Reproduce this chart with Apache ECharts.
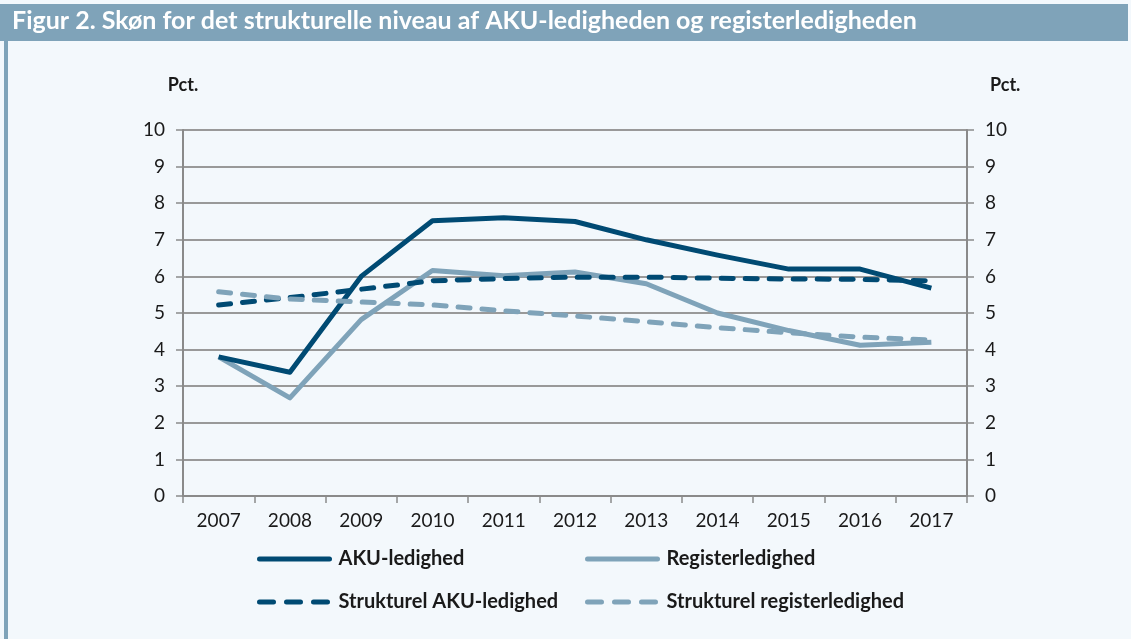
<!DOCTYPE html>
<html>
<head>
<meta charset="utf-8">
<script src="https://cdn.jsdelivr.net/npm/echarts@6/dist/echarts.min.js"></script>
<style>
html,body{margin:0;padding:0;background:#f3f8fc;}
#c{width:1131px;height:639px;}
</style>
</head>
<body>
<div id="c"></div>
<script>
const titleText = 'Figur 2. Skøn for det strukturelle niveau af AKU-ledigheden og registerledigheden';
const unitLabel = 'Pct.';
const years = ['2007','2008','2009','2010','2011','2012','2013','2014','2015','2016','2017'];
const akuLedighed = [3.8, 3.38, 6.0, 7.52, 7.6, 7.5, 7.0, 6.58, 6.2, 6.2, 5.68];
const registerLedighed = [3.8, 2.68, 4.82, 6.16, 6.02, 6.12, 5.8, 5.0, 4.52, 4.12, 4.2];
const strukturelAku = [5.22, 5.42, 5.65, 5.88, 5.94, 5.98, 5.98, 5.95, 5.93, 5.92, 5.88];
const strukturelRegister = [5.58, 5.38, 5.3, 5.22, 5.06, 4.92, 4.76, 4.6, 4.46, 4.34, 4.26];
const seriesNames = ['AKU-ledighed', 'Registerledighed', 'Strukturel AKU-ledighed', 'Strukturel registerledighed'];

const dark = '#004a73';
const light = '#7fa3b9';
const font = 'Lato, "Open Sans", sans-serif';
const dash = [12, 12];

const chart = echarts.init(document.getElementById('c'), null, {renderer:'canvas'});

function mkSeries(name, data, color, dashed) {
  return {
    name, type:'line', data, yAxisIndex:0,
    symbol:'none', smooth:false, z: dashed ? 3 : 2,
    lineStyle:{color, width:5, type: dashed ? dash : 'solid', cap: dashed ? 'round' : 'butt', join:'round'},
    itemStyle:{color}
  };
}
function mkLegend(name, left, top, color, dashed) {
  return {
    data:[name], left, top, itemWidth:70, itemHeight:14, itemGap:0,
    itemStyle:{opacity:0},
    lineStyle:{width:5, color, type: dashed ? [14, 13] : 'solid', cap:'round'},
    textStyle:{fontFamily:font, fontWeight:'bold', fontSize:20, color:'#1a1a1a', padding:[0,0,0,4]},
    selectedMode:false
  };
}

const yAxisCommon = {
  type:'value', min:0, max:10, interval:1,
  axisLine:{show:true, lineStyle:{color:'#8a8a8a', width:2}},
  axisTick:{show:true, length:7, lineStyle:{color:'#8a8a8a', width:1.5}},
  axisLabel:{fontFamily:font, fontSize:19, color:'#1a1a1a', margin:18},
  name: unitLabel, nameGap: 36
};
const nameStyle = {fontFamily:font, fontSize:18, fontWeight:'bold', color:'#1a1a1a'};

chart.setOption({
  backgroundColor:'#f3f8fc',
  animation:false,
  graphic:[
    {type:'rect', shape:{x:0, y:4, width:1128, height:37}, style:{fill:'#7fa3b9'}, silent:true},
    {type:'rect', shape:{x:4, y:41, width:4, height:598}, style:{fill:'#7fa3b9'}, silent:true},
    {type:'text', left:12, top:8, style:{text:titleText, fill:'#ffffff', font:'bold 25px ' + font}, silent:true}
  ],
  grid:{left:183, right:164, top:130, bottom:143, containLabel:false},
  xAxis:{
    type:'category', data:years, boundaryGap:true,
    axisLine:{show:true, lineStyle:{color:'#8a8a8a', width:2}},
    axisTick:{show:true, length:7, interval:0, lineStyle:{color:'#8a8a8a', width:1.5}},
    axisLabel:{fontFamily:font, fontSize:19, color:'#1a1a1a', margin:15, interval:0},
    splitLine:{show:false}
  },
  yAxis:[
    Object.assign({}, yAxisCommon, {position:'left',
      nameTextStyle:Object.assign({}, nameStyle),
      splitLine:{show:true, lineStyle:{color:'#999999', width:2}}}),
    Object.assign({}, yAxisCommon, {position:'right',
      nameTextStyle:Object.assign({}, nameStyle, {align:'left', padding:[0,0,0,23]}),
      splitLine:{show:false}})
  ],
  legend:[
    mkLegend(seriesNames[0], 252, 544, dark, false),
    mkLegend(seriesNames[1], 580, 544, light, false),
    mkLegend(seriesNames[2], 252, 587, dark, true),
    mkLegend(seriesNames[3], 580, 587, light, true)
  ],
  series:[
    mkSeries(seriesNames[2], strukturelAku, dark, true),
    mkSeries(seriesNames[3], strukturelRegister, light, true),
    mkSeries(seriesNames[1], registerLedighed, light, false),
    mkSeries(seriesNames[0], akuLedighed, dark, false)
  ]
});
</script>
</body>
</html>
